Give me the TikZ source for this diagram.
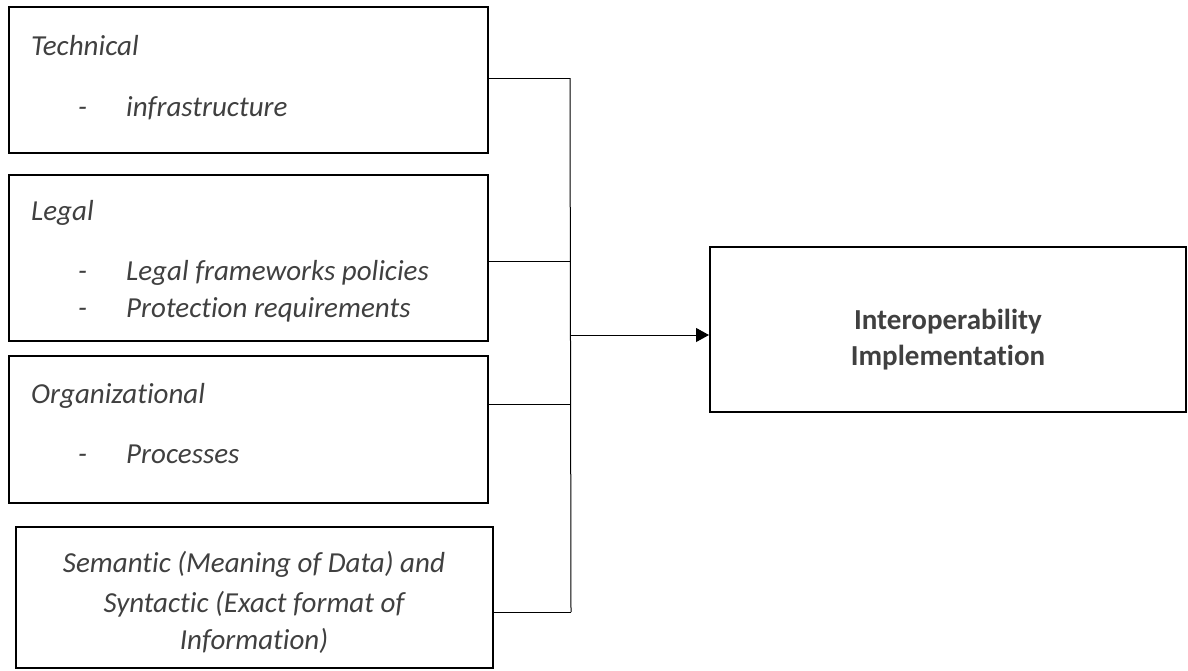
\documentclass[tikz,border=0pt]{standalone}
\usepackage{fontspec}
\setmainfont{Carlito}[Ligatures=NoCommon]
\usetikzlibrary{arrows.meta}
\definecolor{txt}{HTML}{404040}
\tikzset{
  box/.style={draw=black, line width=2pt, inner sep=0pt, fill=none},
  lbl/.style={anchor=base west, inner sep=0pt, text=txt, font=\fontsize{29}{35}\selectfont\itshape},
  ctr/.style={anchor=base, inner sep=0pt, text=txt, font=\fontsize{29}{35}\selectfont\itshape},
  bold/.style={anchor=base, inner sep=0pt, text=txt, font=\fontsize{29}{35}\selectfont\bfseries},
  conn/.style={draw=black, line width=1pt},
}
\begin{document}
\begin{tikzpicture}[x=1pt,y=-1pt]
\useasboundingbox (0,0) rectangle (1188,670);
% boxes
\node[box, minimum width=479pt, minimum height=146pt] (b1) at (248.5,80) {};
\node[box, minimum width=479pt, minimum height=166pt] (b2) at (248.5,258) {};
\node[box, minimum width=479pt, minimum height=147pt] (b3) at (248.5,429.5) {};
\node[box, minimum width=477pt, minimum height=141pt] (b4) at (254,597.5) {};
\node[box, minimum width=476pt, minimum height=165pt] (b5) at (948,329.5) {};
% texts
\node[lbl] (t1) at (31,55) {Technical};
\node[lbl] (t1d) at (78,116) {-};
\node[lbl] (t1a) at (126,116) {infrastructure};
\node[lbl] (t2) at (31,220) {Legal};
\node[lbl] (t2d) at (78,280) {-};
\node[lbl] (t2a) at (126,280) {Legal frameworks policies};
\node[lbl] (t2e) at (78,317) {-};
\node[lbl] (t2b) at (126,317) {Protection requirements};
\node[lbl] (t3) at (31,403) {Organizational};
\node[lbl] (t3d) at (78,463) {-};
\node[lbl] (t3a) at (126,463) {Processes};
\node[ctr] (t4a) at (254,572) {Semantic (Meaning of Data) and};
\node[ctr] (t4b) at (254,612) {Syntactic (Exact format of};
\node[ctr] (t4c) at (254,649) {Information)};
\node[bold] (t5a) at (948,329) {Interoperability};
\node[bold] (t5b) at (948,365) {Implementation};
% connectors
\coordinate (sp1) at (570,78);
\coordinate (sp2) at (571,261);
\coordinate (sp3) at (571,404);
\coordinate (sp4) at (571,612);
\coordinate (spa) at (571,335);
\draw[conn] (sp1) -- (sp4);
\draw[conn] (b1.east |- sp1) -- (sp1);
\draw[conn] (b2.east |- sp2) -- (sp2);
\draw[conn] (b3.east |- sp3) -- (sp3);
\draw[conn] (b4.east |- sp4) -- (sp4);
\draw[conn, -{Triangle[length=13pt, width=14pt]}] (spa) -- (b5.west |- spa);
\end{tikzpicture}
\end{document}
